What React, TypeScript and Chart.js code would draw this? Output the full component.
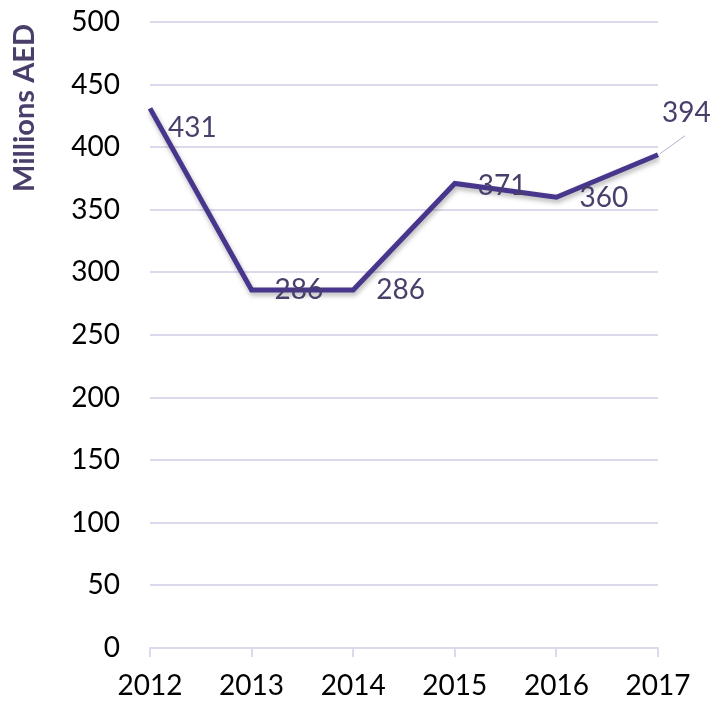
import React, { useEffect, useRef } from "react";
import { Chart, registerables } from "chart.js";

Chart.register(...registerables);

const categories = ["2012", "2013", "2014", "2015", "2016", "2017"];
const values = [431, 286, 286, 371, 360, 394];
const yTicks = [0, 50, 100, 150, 200, 250, 300, 350, 400, 450, 500];
const yTitle = "Millions AED";

// label offsets relative to the point (style only)
const labelDx = [18, 23, 23, 23, 23, 4];
const labelDy = [20, 0, 0, 2, 1, -42];

const FONT = "Lato, 'Open Sans', sans-serif";
const LINE = "#47368c";
const LABEL = "#4a3e6a";
const GRID = "#dcd9ec";

const labelsPlugin = {
  id: "valueLabels",
  afterDatasetsDraw(chart: any) {
    const ctx = chart.ctx;
    const meta = chart.getDatasetMeta(0);
    ctx.save();
    ctx.font = `28px ${FONT}`;
    ctx.fillStyle = LABEL;
    ctx.textAlign = "left";
    ctx.textBaseline = "middle";
    meta.data.forEach((pt: any, i: number) => {
      const x = pt.x + labelDx[i];
      const y = pt.y + labelDy[i];
      ctx.fillText(String(values[i]), x, y);
      if (i === values.length - 1) {
        ctx.strokeStyle = "#b7aed6";
        ctx.lineWidth = 1;
        ctx.beginPath();
        ctx.moveTo(pt.x + 2, pt.y - 1);
        ctx.lineTo(pt.x + 27, pt.y - 19);
        ctx.stroke();
      }
    });
    ctx.restore();
  },
};

const titlePlugin = {
  id: "yTitle",
  afterDraw(chart: any) {
    const ctx = chart.ctx;
    ctx.save();
    ctx.translate(25, 108);
    ctx.rotate(-Math.PI / 2);
    ctx.font = `bold 29px ${FONT}`;
    ctx.fillStyle = LABEL;
    ctx.textAlign = "center";
    ctx.textBaseline = "middle";
    ctx.fillText(yTitle, 0, 0);
    ctx.restore();
  },
};

const shadowPlugin = {
  id: "lineShadow",
  beforeDatasetDraw(chart: any) {
    const ctx = chart.ctx;
    ctx.save();
    ctx.shadowColor = "rgba(0,0,0,0.3)";
    ctx.shadowBlur = 5;
    ctx.shadowOffsetX = 1;
    ctx.shadowOffsetY = 3;
  },
  afterDatasetDraw(chart: any) {
    chart.ctx.restore();
  },
};

export default function App() {
  const ref = useRef<HTMLCanvasElement>(null);
  useEffect(() => {
    if (!ref.current) return;
    const chart = new Chart(ref.current, {
      type: "line",
      data: {
        labels: categories,
        datasets: [
          {
            data: values,
            borderColor: LINE,
            borderWidth: 5,
            pointRadius: 0,
            tension: 0,
            fill: false,
          },
        ],
      },
      options: {
        animation: false,
        responsive: false,
        layout: { padding: { left: 0, right: 55, top: 22, bottom: 0 } },
        plugins: { legend: { display: false }, tooltip: { enabled: false } },
        scales: {
          x: {
            offset: false,
            grid: {
              drawOnChartArea: false,
              drawTicks: true,
              tickLength: 9,
              color: GRID,
              lineWidth: 2,
            },
            border: { display: true, color: GRID, width: 2 },
            ticks: {
              color: "#000",
              font: { family: FONT, size: 28 },
              padding: 12,
              maxRotation: 0,
              autoSkip: false,
            },
            afterFit(s: any) {
              s.height = 55;
              s.paddingLeft = 0;
              s.paddingRight = 0;
            },
          },
          y: {
            min: 0,
            max: 500,
            afterBuildTicks(s: any) {
              s.ticks = yTicks.map((v) => ({ value: v }));
            },
            grid: { drawTicks: false, color: GRID, lineWidth: 2 },
            border: { display: false },
            ticks: {
              color: "#000",
              font: { family: FONT, size: 28 },
              padding: 30,
            },
            afterFit(s: any) {
              s.width = 150;
              s.paddingTop = 0;
              s.paddingBottom = 0;
            },
          },
        },
      },
      plugins: [shadowPlugin, labelsPlugin, titlePlugin],
    });
    return () => chart.destroy();
  }, []);
  return (
    <div style={{ position: "fixed", left: 0, top: 0, width: 713, height: 703, background: "#fff" }}>
      <canvas ref={ref} width={713} height={703} />
    </div>
  );
}
